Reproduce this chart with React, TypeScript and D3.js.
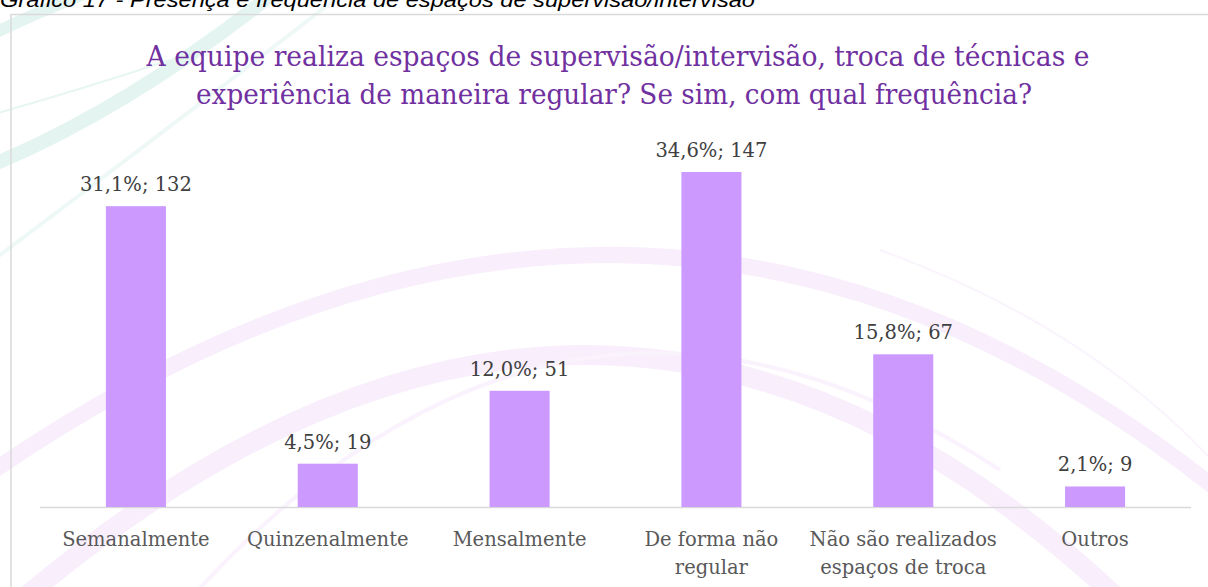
import React from "react";
import * as d3 from "d3";

const categories: string[][] = [
  ["Semanalmente"],
  ["Quinzenalmente"],
  ["Mensalmente"],
  ["De forma não", "regular"],
  ["Não são realizados", "espaços de troca"],
  ["Outros"],
];
const counts: number[] = [132, 19, 51, 147, 67, 9];
const percents: string[] = ["31,1%", "4,5%", "12,0%", "34,6%", "15,8%", "2,1%"];
const titleLines: string[] = [
  "A equipe realiza espaços de supervisão/intervisão, troca de técnicas e",
  "experiência de maneira regular? Se sim, com qual frequência?",
];
const caption = "Gráfico 17 - Presença e frequência de espaços de supervisão/intervisão";

const W = 1208;
const H = 587;

export default function App() {
  const x = d3
    .scaleBand<number>()
    .domain(d3.range(categories.length))
    .range([40, 1191])
    .paddingInner(0.687)
    .paddingOuter(0.3435);
  const y = d3.scaleLinear().domain([0, 147]).range([507, 172]);

  const serif = "'DejaVu Serif', serif";

  // decorative background arcs
  const arcs = [
    { d: "M -20 40 Q 40 10 120 -20", c: "#e4f5f1", w: 12 },
    { d: "M -20 170 Q 130 110 290 -20", c: "#e4f5f1", w: 14 },
    { d: "M -20 118 Q 80 90 170 60", c: "#e8f6f3", w: 2 },
    { d: "M -20 270 Q 180 120 360 -20", c: "#eef8f6", w: 4 },
    { d: "M -20 480 Q 640 20 1230 500", c: "#f8eefc", w: 16 },
    { d: "M 10 610 Q 600 100 1130 610", c: "#f8eefc", w: 20 },
    { d: "M 180 610 Q 560 180 1000 470", c: "#faf3fd", w: 4 },
    { d: "M 880 250 Q 1100 330 1230 480", c: "#faf4fd", w: 2 },
  ];

  return (
    <svg
      width={W}
      height={H}
      style={{ position: "absolute", left: 0, top: 0, background: "#fff" }}
    >
      <rect x={0} y={0} width={W} height={H} fill="#fff" />
      {arcs.map((a, i) => (
        <path key={i} d={a.d} fill="none" stroke={a.c} strokeWidth={a.w} />
      ))}
      <rect
        x={11}
        y={14.5}
        width={W + 20}
        height={H + 20}
        fill="none"
        stroke="#d9d9d9"
        strokeWidth={1.5}
      />
      <text
        x={0}
        y={7}
        fontFamily="'Liberation Sans', sans-serif"
        fontStyle="italic"
        fontSize={20}
        fill="#000"
        textLength={755}
        lengthAdjust="spacingAndGlyphs"
      >
        {caption}
      </text>
      {titleLines.map((t, i) => (
        <text
          key={i}
          x={i === 0 ? 618 : 614}
          y={i === 0 ? 66 : 104}
          textAnchor="middle"
          fontFamily={serif}
          fontSize={27}
          fill="#7030A0"
          textLength={i === 0 ? 943 : 836}
          lengthAdjust="spacingAndGlyphs"
        >
          {t}
        </text>
      ))}
      <line x1={40} x2={1191} y1={507.5} y2={507.5} stroke="#d9d9d9" strokeWidth={1.5} />
      {counts.map((v, i) => {
        const bx = x(i)!;
        const cx = bx + x.bandwidth() / 2;
        return (
          <g key={i}>
            <rect x={bx} y={y(v)} width={x.bandwidth()} height={y(0) - y(v)} fill="#CC99FF" />
            <text
              x={cx}
              y={y(v) - 15}
              textAnchor="middle"
              fontFamily={serif}
              fontSize={19.5}
              fill="#404040"
            >
              {`${percents[i]}; ${v}`}
            </text>
            {categories[i].map((line, j) => (
              <text
                key={j}
                x={cx}
                y={546 + j * 28}
                textAnchor="middle"
                fontFamily={serif}
                fontSize={19.5}
                fill="#595959"
              >
                {line}
              </text>
            ))}
          </g>
        );
      })}
    </svg>
  );
}
